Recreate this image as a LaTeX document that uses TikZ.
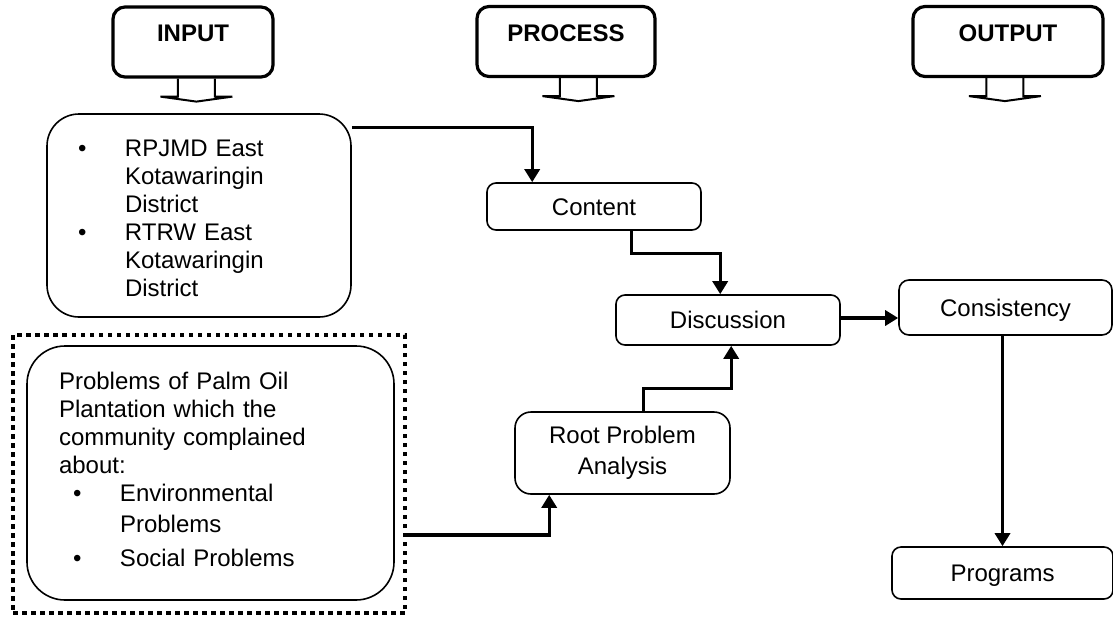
\documentclass[tikz,border=0pt]{standalone}
\usepackage{fontspec}
\setmainfont{Liberation Sans}
\usetikzlibrary{arrows.meta,calc}
\begin{document}
\begin{tikzpicture}[x=1pt,y=-1pt,
  every node/.style={font=\fontsize{24}{28}\selectfont},
  hdr/.style={draw, line width=3.2pt, rounded corners=12pt, minimum height=70pt,
    inner sep=0pt, font=\fontsize{24}{28}\selectfont\bfseries,
    text height=17.2pt, text depth=18pt},
  box/.style={draw, line width=1.6pt, rounded corners=9pt, inner sep=0pt, align=center},
  oneline/.style={text height=17.2pt, text depth=0pt},
  conn/.style={line width=3.3pt, -{Triangle[length=13pt,width=15pt]}},
  hdrarrow/.pic={
    \draw[line width=2pt] (-18.5,0) -- (-18.5,18) -- (-36,18) -- (0,23)
      -- (36,18) -- (18.5,18) -- (18.5,0);
  }
]
\useasboundingbox (0,0) rectangle (1113,619);

% column headers with their block arrows
\node[hdr, minimum width=160pt] (hin)   at (193,42)   {INPUT};
\node[hdr, minimum width=178pt] (hproc) at (566,41.5) {PROCESS};
\node[hdr, minimum width=190pt] (hout)  at (1008,41.5){OUTPUT};
\pic at ($(hin.south west)+(85,0)$)    {hdrarrow};
\pic at ($(hproc.south west)+(103,0)$) {hdrarrow};
\pic at ($(hout.south west)+(93.5,0)$) {hdrarrow};

% input documents
\node[box, rounded corners=32pt, minimum width=304pt, minimum height=203pt,
      text width=304pt, align=left, text height=23.2pt] (rp) at (199,215.5) {%
  \makebox[78pt][l]{\hspace{31pt}\textbullet}RPJMD East\\
  \hspace*{78pt}Kotawaringin\\
  \hspace*{78pt}District\\
  \makebox[78pt][l]{\hspace{31pt}\textbullet}RTRW East\\
  \hspace*{78pt}Kotawaringin\\
  \hspace*{78pt}District};

% community problems, inside a dotted frame
\node[draw, line width=4pt, dash pattern=on 4.5pt off 4.5pt,
      minimum width=392pt, minimum height=278pt, inner sep=0pt] (frame) at (209,474) {};
\node[box, rounded corners=38pt, minimum width=367pt, minimum height=254pt,
      inner xsep=32pt, text width=303pt, align=left, text height=11pt] (prob) at (210.5,473) {%
  Problems of Palm Oil\\
  Plantation which the\\
  community complained\\
  about:\\
  \makebox[61pt][l]{\hspace{14pt}\textbullet}Environmental\\[3pt]
  \hspace*{61pt}Problems\\[6pt]
  \makebox[61pt][l]{\hspace{14pt}\textbullet}Social Problems};

% process steps
\node[box, oneline, minimum width=214pt, minimum height=47pt] (content) at (594,206.5) {Content};
\node[box, oneline, minimum width=224pt, minimum height=50pt] (disc) at (728,320) {Discussion};
\node[box, rounded corners=16pt, minimum width=215pt, minimum height=82pt] (root) at (622.5,453) {Root Problem\\[3pt]Analysis};
\node[box, oneline, rounded corners=10pt, minimum width=213pt, minimum height=55pt] (cons) at (1005.5,307.5) {Consistency};
\node[box, oneline, minimum width=221pt, minimum height=52pt] (prog) at (1002.5,573) {Programs};

% connectors
\draw[conn] ($(rp.north east)+(0,14)$) -| ($(content.north west)+(46,0)$);
\draw[conn] ($(content.south west)+(145,0)$) -- ++(0,23) -| ($(disc.north west)+(105,0)$);
\draw[conn] ($(root.north west)+(129,0)$) -- ++(0,-23) -| ($(disc.south west)+(116,0)$);
\coordinate (dout) at ($(disc.east)+(0,-2)$);
\draw[conn] (dout) -- (dout -| cons.west);
\draw[conn] (cons.south -| prog.north) -- (prog.north);
\draw[conn] ($(frame.north east)+(0,202)$) -| ($(root.south west)+(35,0)$);
\end{tikzpicture}
\end{document}
